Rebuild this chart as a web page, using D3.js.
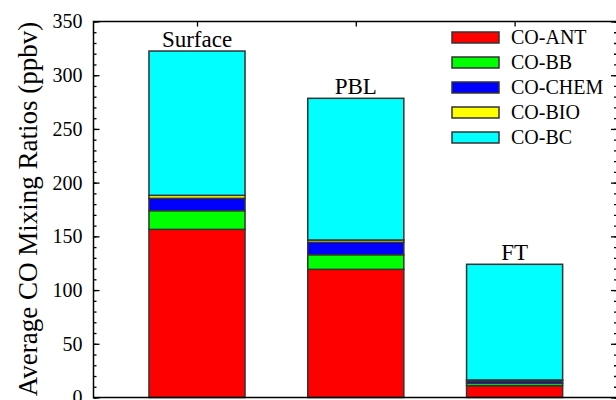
<!DOCTYPE html>
<html>
<head>
<meta charset="utf-8">
<script src="https://cdn.jsdelivr.net/npm/d3@7"></script>
<style>
    html, body { margin: 0; padding: 0; background: #fff; overflow: hidden; }
    svg { display: block; overflow: visible; }
</style>
</head>
<body>
<svg id="chart" width="616" height="400"></svg>
<script>
// data
const regions = ["Surface", "PBL", "FT"];
const sources = ["CO-ANT", "CO-BB", "CO-CHEM", "CO-BIO", "CO-BC"];
const colors = ["#ff0000", "#00ff00", "#0000ff", "#ffff00", "#00ffff"];
const coAnt  = [156.5, 119.3, 11.0];
const coBb   = [17.4, 13.6, 2.2];
const coChem = [11.5, 11.6, 2.2];
const coBio  = [2.8, 2.1, 0.9];
const coBc   = [134.3, 131.9, 107.7];
const yTicks = [0, 50, 100, 150, 200, 250, 300, 350];

const FONT = "'Liberation Serif', 'DejaVu Serif', 'Times New Roman', Times, serif";

const series = [coAnt, coBb, coChem, coBio, coBc];
const table = regions.map((r, i) => {
    let row = { region: r };
    sources.forEach((s, j) => { row[s] = series[j][i]; });
    return row;
});

const svg = d3.select("#chart").attr("font-family", FONT);
const m = { left: 93.5, right: 617, top: 21.5, bottom: 397.5 };

const x = d3.scaleBand()
    .domain(regions)
    .range([117.6, 594])
    .paddingInner(0.395)
    .paddingOuter(0.1975);

const y = d3.scaleLinear()
    .domain([0, 350])
    .range([m.bottom, m.top]);

const stack = d3.stack().keys(sources);
const layers = stack(table);

// axes: ticks point inward
const minorTicks = d3.range(0, 351, 10);

svg.append("g")
    .attr("transform", `translate(${m.left},0)`)
    .call(d3.axisLeft(y).tickValues(minorTicks).tickSize(-3).tickFormat(""))
    .call(g => g.select(".domain").remove());

svg.append("g")
    .attr("class", "y-axis")
    .attr("transform", `translate(${m.left},0)`)
    .call(d3.axisLeft(y).tickValues(yTicks).tickSize(-6).tickPadding(11).tickSizeOuter(0))
    .call(g => g.select(".domain").remove())
    .call(g => g.attr("font-family", FONT).attr("font-size", 20))
    .call(g => g.selectAll("text").attr("fill", "#000"));

svg.append("g")
    .attr("transform", `translate(${m.right},0)`)
    .call(d3.axisRight(y).tickValues(minorTicks).tickSize(-3).tickFormat(""))
    .call(g => g.select(".domain").remove());

svg.append("g")
    .attr("transform", `translate(${m.right},0)`)
    .call(d3.axisRight(y).tickValues(yTicks).tickSize(-6).tickFormat(""))
    .call(g => g.select(".domain").remove());

const xc = d => x(d) + x.bandwidth() / 2;
const xPts = d3.scalePoint().domain(regions).range([xc(regions[0]), xc(regions[2])]);

svg.append("g")
    .attr("transform", `translate(0,${m.top})`)
    .call(d3.axisTop(xPts).tickSize(-5).tickFormat("").tickSizeOuter(0))
    .call(g => g.select(".domain").remove());

svg.selectAll(".tick line").attr("stroke", "#000").attr("stroke-width", 1.3);

// bars
svg.append("g")
    .selectAll("g")
    .data(layers)
    .join("g")
    .attr("fill", (d, i) => colors[i])
    .selectAll("rect")
    .data(d => d)
    .join("rect")
    .attr("x", d => x(d.data.region))
    .attr("y", d => y(d[1]))
    .attr("width", x.bandwidth())
    .attr("height", d => y(d[0]) - y(d[1]))
    .attr("stroke", "#333")
    .attr("stroke-width", 1.5);

// frame
svg.append("path")
    .attr("d", `M${m.right},${m.top}H${m.left}V${m.bottom}H${m.right}`)
    .attr("fill", "none")
    .attr("stroke", "#000")
    .attr("stroke-width", 1.5);

// region labels over bars
svg.append("g")
    .selectAll("text")
    .data(table)
    .join("text")
    .attr("x", d => xc(d.region))
    .attr("y", d => y(d3.sum(sources, s => d[s])) - 4)
    .attr("text-anchor", "middle")
    .attr("font-family", FONT)
    .attr("font-size", 23)
    .text(d => d.region);

// y title
svg.append("text")
    .attr("transform", "translate(37,209) rotate(-90)")
    .attr("text-anchor", "middle")
    .attr("font-family", FONT)
    .attr("font-size", 27)
    .text("Average CO Mixing Ratios (ppbv)");

// legend
const legend = svg.append("g")
    .selectAll("g")
    .data(sources)
    .join("g")
    .attr("transform", (d, i) => `translate(452,${32 + i * 25})`);

legend.append("rect")
    .attr("width", 47)
    .attr("height", 11)
    .attr("fill", (d, i) => colors[i])
    .attr("stroke", "#333")
    .attr("stroke-width", 1.5);

legend.append("text")
    .attr("x", 59)
    .attr("y", 11.5)
    .attr("font-family", FONT)
    .attr("font-size", 20)
    .text(d => d);
</script>
</body>
</html>
